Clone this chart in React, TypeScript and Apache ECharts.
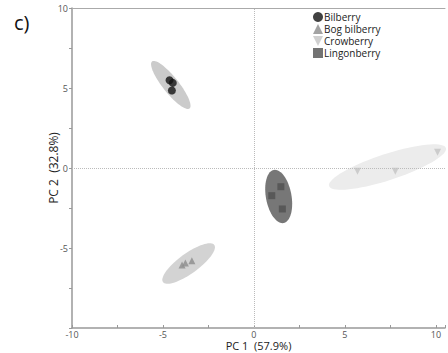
import React, { useEffect, useRef } from "react";
import * as echarts from "echarts";

const seriesNames = ["Bilberry", "Bog bilberry", "Crowberry", "Lingonberry"];
const bilberry = [[-4.64, 5.48], [-4.46, 5.32], [-4.51, 4.84]];
const bogBilberry = [[-3.95, -6.06], [-3.77, -5.94], [-3.41, -5.79]];
const crowberry = [[5.69, -0.21], [7.77, -0.21], [10.09, 0.98]];
const lingonberry = [[1.48, -1.17], [0.98, -1.73], [1.56, -2.56]];
// ellipse: [cx, cy, majorX, majorY, minorX, minorY]
const ellipseBilberry = [-4.57, 5.19, 1.03, -1.47, 0.34, 0.31];
const ellipseBog = [-3.59, -5.97, 1.41, 1.16, 0.32, -0.51];
const ellipseCrow = [7.34, 0.06, 3.21, 1.19, 0.22, -0.78];
const ellipseLingon = [1.36, -1.78, 0.27, -1.66, 0.69, 0.15];

const markerColors = ["#111111", "#8c8c8c", "#c4c4c4", "#505050"];
const ellipseColors = ["#cbcbcb", "#d3d3d3", "#ececec", "#777777"];
const invTri = "path://M0,0L10,0L5,10Z";

export default function App() {
  const ref = useRef<HTMLDivElement>(null);
  useEffect(() => {
    if (!ref.current) return;
    const chart = echarts.init(ref.current, null, { renderer: "svg" });
    const ellipses = [ellipseBilberry, ellipseBog, ellipseCrow, ellipseLingon];
    const font = "Open Sans";
    chart.setOption({
      animation: false,
      textStyle: { fontFamily: font },
      grid: { left: 72, right: 3, top: 8, bottom: 25, outerBoundsMode: "none", containLabel: false },
      graphic: [
        { type: "text", left: 14, top: 12, style: { text: "c)", fontSize: 20, fill: "#111", fontFamily: font } },
      ],
      legend: {
        orient: "vertical",
        left: 313,
        top: 12,
        padding: 0,
        itemWidth: 10,
        itemHeight: 10,
        itemGap: 2,
        textStyle: { fontSize: 10, lineHeight: 10, color: "#222", padding: [0, 0, 0, -4], fontFamily: font },
        data: [
          { name: seriesNames[0], icon: "circle" },
          { name: seriesNames[1], icon: "triangle" },
          { name: seriesNames[2], icon: invTri },
          { name: seriesNames[3], icon: "rect" },
        ],
      },
      xAxis: [
        {
          type: "value",
          min: -10,
          max: 10.5,
          interval: 5,
          axisLine: { onZero: false, lineStyle: { color: "#999", width: 1.5 } },
          axisTick: { show: true, inside: true, length: 3, lineStyle: { color: "#999" } },
          minorTick: { show: true, splitNumber: 2, length: 3, lineStyle: { color: "#999" } },
          splitLine: { show: false },
          axisLabel: { color: "#555", fontSize: 9, lineHeight: 10, showMaxLabel: false, margin: 1 },
          name: "PC 1  (57.9%)",
          nameLocation: "middle",
          nameGap: 12,
          nameMoveOverlap: false,
          nameTextStyle: { fontSize: 11, lineHeight: 11, color: "#222", fontFamily: font },
        },
        {
          type: "value",
          position: "top",
          min: -10,
          max: 10.5,
          axisLine: { show: true, onZero: false, lineStyle: { color: "#aaa", width: 1 } },
          axisTick: { show: false },
          axisLabel: { show: false },
          splitLine: { show: false },
        },
      ],
      yAxis: {
        type: "value",
        min: -10,
        max: 10,
        interval: 5,
        axisLine: { show: true, onZero: false, lineStyle: { color: "#999", width: 1.5 } },
        axisTick: { show: true, length: 3, lineStyle: { color: "#999" } },
        minorTick: { show: true, splitNumber: 2, length: 3, lineStyle: { color: "#999" } },
        splitLine: { show: false },
        axisLabel: { color: "#555", fontSize: 9, showMinLabel: false, margin: 4 },
        name: "PC 2  (32.8%)",
        nameLocation: "middle",
        nameGap: 13,
        nameMoveOverlap: false,
        nameTextStyle: { fontSize: 12, color: "#222", fontFamily: font },
      },
      series: [
        {
          type: "custom",
          name: "ellipses",
          z: 1,
          silent: true,
          data: ellipses.map((e, i) => [...e, i]),
          encode: { x: 0, y: 1 },
          renderItem: (params: any, api: any) => {
            const cx = api.value(0), cy = api.value(1);
            const ax = api.value(2), ay = api.value(3);
            const bx = api.value(4), by = api.value(5);
            const idx = api.value(6);
            const pts: number[][] = [];
            const n = 72;
            for (let k = 0; k < n; k++) {
              const t = (2 * Math.PI * k) / n;
              pts.push(api.coord([cx + ax * Math.cos(t) + bx * Math.sin(t), cy + ay * Math.cos(t) + by * Math.sin(t)]));
            }
            return { type: "polygon", shape: { points: pts }, style: { fill: ellipseColors[idx], stroke: null } };
          },
        },
        {
          type: "scatter",
          name: seriesNames[0],
          z: 3,
          symbol: "circle",
          symbolSize: 8,
          itemStyle: { color: markerColors[0] },
          data: bilberry,
          markLine: {
            silent: true,
            symbol: "none",
            label: { show: false },
            lineStyle: { type: "dotted", color: "#bbb", width: 1 },
            data: [{ xAxis: 0 }, { yAxis: 0 }],
            z: 2,
          },
        },
        { type: "scatter", name: seriesNames[1], z: 3, symbol: "triangle", symbolSize: 7, itemStyle: { color: markerColors[1] }, data: bogBilberry },
        { type: "scatter", name: seriesNames[2], z: 3, symbol: invTri, symbolSize: 7, itemStyle: { color: markerColors[2] }, data: crowberry },
        { type: "scatter", name: seriesNames[3], z: 3, symbol: "rect", symbolSize: 7, itemStyle: { color: markerColors[3] }, data: lingonberry },
      ],
    });
    return () => chart.dispose();
  }, []);
  return <div ref={ref} style={{ position: "absolute", left: 0, top: 0, width: 448, height: 353 }} />;
}
